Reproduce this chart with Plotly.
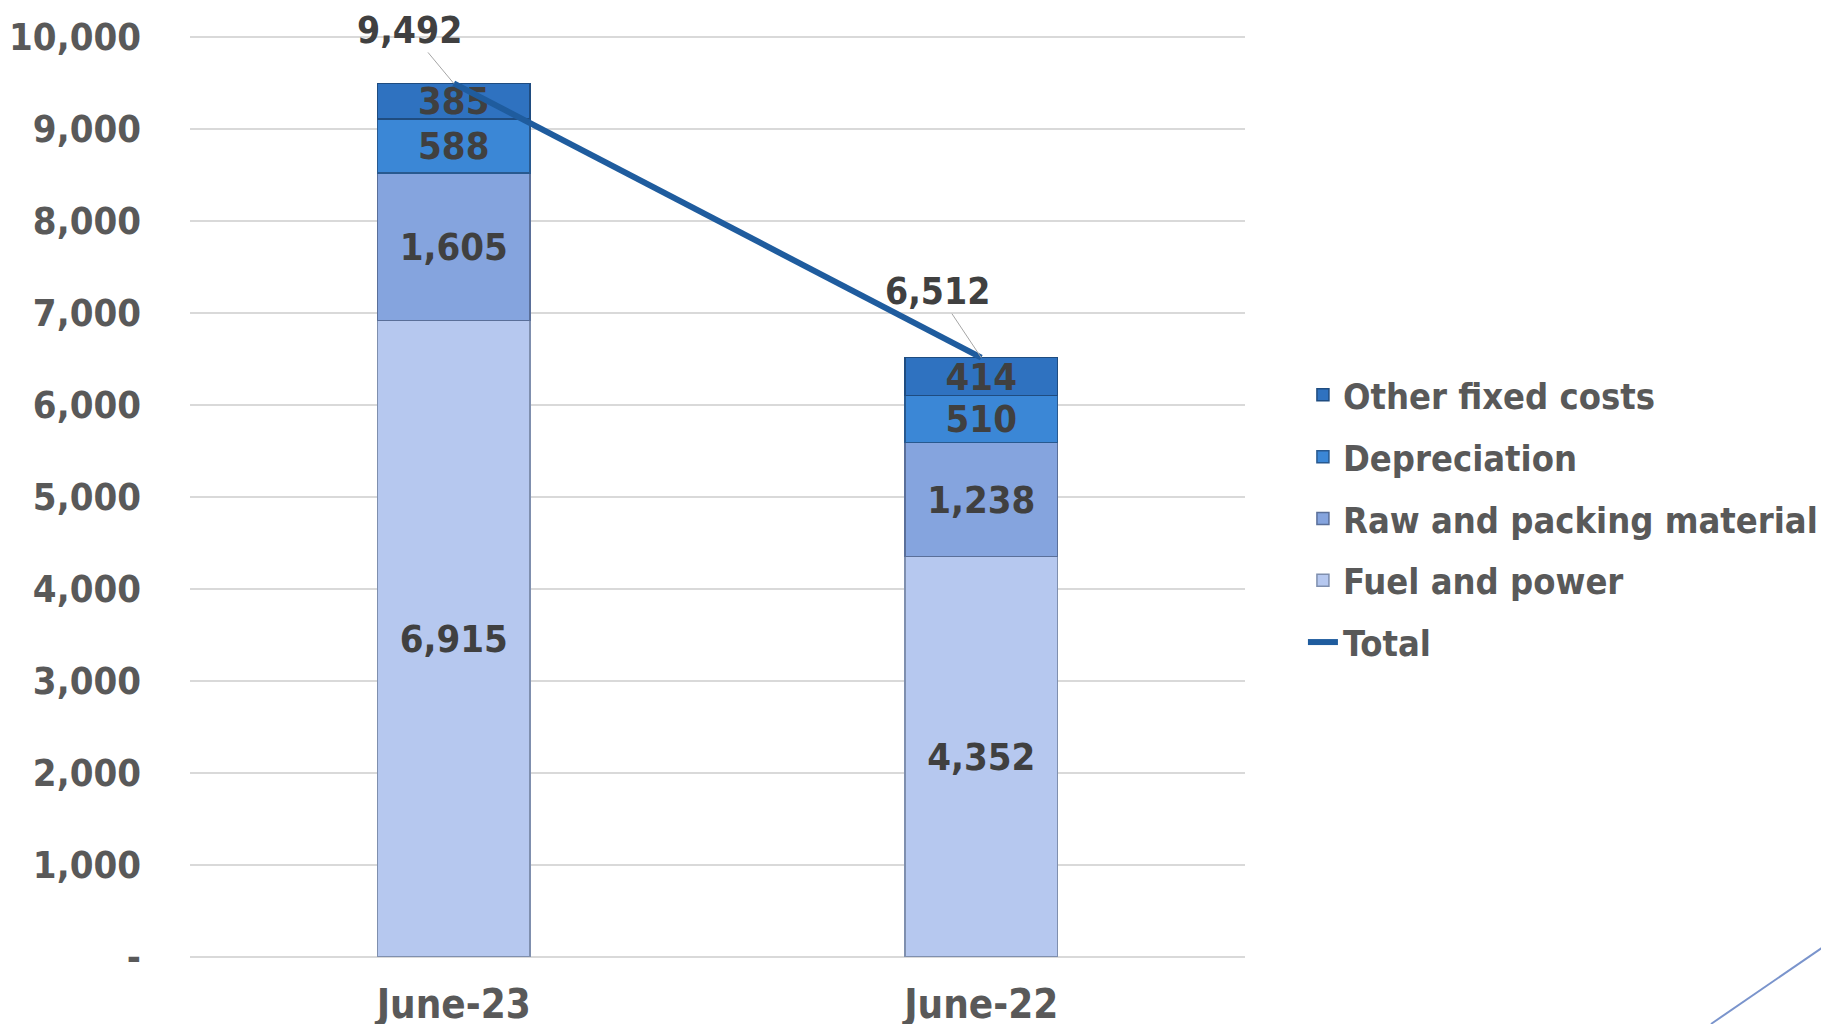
import plotly.graph_objects as go

categories = ["June-23", "June-22"]
fuel_power = [6915, 4352]
raw_packing = [1605, 1238]
depreciation = [588, 510]
other_fixed = [385, 414]
total = [9492, 6512]
y_tickvals = [0, 1000, 2000, 3000, 4000, 5000, 6000, 7000, 8000, 9000, 10000]
y_ticktext = ["-", "1,000", "2,000", "3,000", "4,000", "5,000", "6,000", "7,000", "8,000", "9,000", "10,000"]

FONT = "DejaVu Sans Condensed, DejaVu Sans, sans-serif"
GREY = "#595959"
LABEL = "#404040"

series = [
    ("Fuel and power", fuel_power, "#b6c8ef", "#7f8fae", 4),
    ("Raw and packing material", raw_packing, "#85a4de", "#5a6f99", 3),
    ("Depreciation", depreciation, "#3b87d6", "#28598f", 2),
    ("Other fixed costs", other_fixed, "#2f72c0", "#1f4c80", 1),
]

fig = go.Figure()
for name, vals, color, edge, rank in series:
    fig.add_trace(go.Bar(
        x=categories, y=vals, name=name, legendrank=rank, legendgroup=name,
        marker=dict(color=color, line=dict(color=edge, width=1.5)),
        text=[f"{v:,}" for v in vals], textposition="inside",
        insidetextanchor="middle", constraintext="none",
        textfont=dict(family=FONT, size=38, color=LABEL, weight="bold"),
        hoverinfo="skip",
    ))

fig.add_trace(go.Scatter(
    x=categories, y=total, name="Total", mode="lines", legendrank=5,
    legendgroup="Total",
    line=dict(color="#1f5c9e", width=6), hoverinfo="skip",
))

offsets = [(-44, -53), (-44, -66)]
for c, t, (ax, ay) in zip(categories, total, offsets):
    fig.add_annotation(
        x=c, y=t, text=f"{t:,}", showarrow=True, arrowhead=0, arrowwidth=1,
        arrowcolor="#a6a6a6", ax=ax, ay=ay, standoff=0, borderpad=0,
        font=dict(family=FONT, size=37, color=LABEL, weight="bold"),
    )

# decorative slide corner line
fig.add_shape(type="line", xref="paper", yref="paper",
              x0=1.4417, y0=-0.0725, x1=1.5536, y1=0.01515,
              line=dict(color="#7a94cc", width=2))

fig.update_layout(
    width=1829, height=1024,
    barmode="stack", bargap=0.71,
    paper_bgcolor="white", plot_bgcolor="white",
    margin=dict(l=182, r=592, t=25, b=75, autoexpand=False),
    font=dict(family=FONT, size=38, color=GREY, weight="bold"),
    showlegend=True,
    legend=dict(
        xref="container", yref="container",
        x=0.708, y=0.6514, xanchor="left", yanchor="top",
        traceorder="grouped", itemwidth=30,
        font=dict(family=FONT, size=36, color=GREY, weight="bold"),
        tracegroupgap=12, bgcolor="rgba(0,0,0,0)",
    ),
    xaxis=dict(
        type="category", range=[-0.5, 1.5], showgrid=False,
        showline=False, ticks="", ticklabelstandoff=20,
        tickfont=dict(size=40, color=GREY),
    ),
    yaxis=dict(
        range=[0, 10040], tickvals=y_tickvals, ticktext=y_ticktext,
        showgrid=True, gridcolor="#d9d9d9", gridwidth=2,
        zeroline=True, zerolinecolor="#d9d9d9", zerolinewidth=2,
        showline=False, ticks="", ticklabelstandoff=48,
        tickfont=dict(size=38, color=GREY),
    ),
)

fig.write_html("out.html")
